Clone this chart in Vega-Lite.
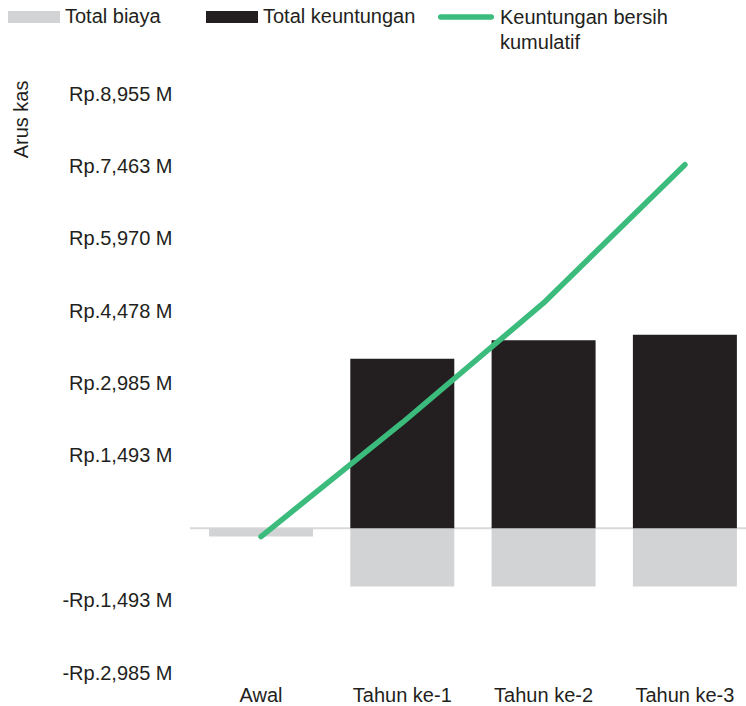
{
  "$schema": "https://vega.github.io/schema/vega-lite/v6.json",
  "width": 556,
  "height": 579,
  "autosize": {"type": "none"},
  "padding": {"left": 190, "top": 94, "right": 0, "bottom": 33},
  "config": {
    "view": {"stroke": null},
    "font": "Liberation Sans",
    "axis": {
      "labelFont": "Liberation Sans",
      "labelFontSize": 20,
      "labelColor": "#231f20",
      "titleFont": "Liberation Sans",
      "titleFontSize": 20,
      "titleFontWeight": "normal",
      "titleColor": "#231f20",
      "grid": false,
      "domain": false,
      "ticks": false
    },
    "legend": {
      "labelFont": "Liberation Sans",
      "labelFontSize": 20,
      "labelColor": "#231f20",
      "labelLimit": 400,
      "padding": 0
    }
  },
  "datasets": {
    "bars": [
      {"periode": "Awal", "kategori": "Total biaya", "nilai": -171},
      {"periode": "Tahun ke-1", "kategori": "Total biaya", "nilai": -1200},
      {"periode": "Tahun ke-2", "kategori": "Total biaya", "nilai": -1200},
      {"periode": "Tahun ke-3", "kategori": "Total biaya", "nilai": -1200},
      {"periode": "Awal", "kategori": "Total keuntungan", "nilai": 0},
      {"periode": "Tahun ke-1", "kategori": "Total keuntungan", "nilai": 3493},
      {"periode": "Tahun ke-2", "kategori": "Total keuntungan", "nilai": 3878},
      {"periode": "Tahun ke-3", "kategori": "Total keuntungan", "nilai": 3988}
    ],
    "garis": [
      {"periode": "Awal", "seri": "Keuntungan bersih kumulatif", "nilai": -171},
      {"periode": "Tahun ke-1", "seri": "Keuntungan bersih kumulatif", "nilai": 2176},
      {"periode": "Tahun ke-2", "seri": "Keuntungan bersih kumulatif", "nilai": 4646},
      {"periode": "Tahun ke-3", "seri": "Keuntungan bersih kumulatif", "nilai": 7497}
    ]
  },
  "layer": [
    {
      "data": {"values": [{}]},
      "mark": {"type": "rule", "color": "#d9d9d9", "strokeWidth": 2},
      "encoding": {"y": {"datum": 0, "type": "quantitative"}}
    },
    {
      "data": {"name": "bars"},
      "mark": {"type": "bar"},
      "encoding": {
        "x": {
          "field": "periode",
          "type": "nominal",
          "sort": ["Awal", "Tahun ke-1", "Tahun ke-2", "Tahun ke-3"],
          "scale": {"paddingInner": 0.264, "paddingOuter": 0.0995, "align": 0.676},
          "axis": {"title": null, "labelAngle": 0, "labelPadding": 12}
        },
        "y": {
          "field": "nilai",
          "type": "quantitative",
          "stack": null,
          "scale": {"domain": [-2985, 8955], "nice": false, "zero": false},
          "axis": {
            "values": [-2985, -1493, 1493, 2985, 4478, 5970, 7463, 8955],
            "labelExpr": "(datum.value < 0 ? '-' : '') + 'Rp.' + format(abs(datum.value), ',') + ' M'",
            "labelPadding": 18,
            "title": "Arus kas",
            "titleAngle": -90,
            "titleAlign": "right",
            "titleBaseline": "alphabetic",
            "titleX": -163,
            "titleY": -14
          }
        },
        "fill": {
          "field": "kategori",
          "type": "nominal",
          "scale": {"domain": ["Total biaya", "Total keuntungan"], "range": ["#d1d3d4", "#231f20"]},
          "legend": {
            "title": null,
            "orient": "none",
            "direction": "horizontal",
            "legendX": -182,
            "legendY": -103,
            "symbolType": "M-1,-0.2308H1V0.2308H-1Z",
            "symbolSize": 2704,
            "symbolStrokeWidth": 0,
            "labelOffset": 5,
            "columnPadding": 45
          }
        }
      }
    },
    {
      "data": {"name": "garis"},
      "mark": {"type": "line", "strokeWidth": 5.5, "strokeCap": "round", "strokeJoin": "round"},
      "encoding": {
        "x": {"field": "periode", "type": "nominal", "sort": ["Awal", "Tahun ke-1", "Tahun ke-2", "Tahun ke-3"]},
        "y": {"field": "nilai", "type": "quantitative"},
        "stroke": {
          "field": "seri",
          "type": "nominal",
          "scale": {"domain": ["Keuntungan bersih kumulatif"], "range": ["#3bbb7c"]},
          "legend": {
            "title": null,
            "orient": "none",
            "legendX": 248,
            "legendY": -105,
            "symbolType": "stroke",
            "symbolSize": 2550,
            "symbolStrokeWidth": 5.5,
            "labelOffset": 6,
            "labelBaseline": "top",
            "labelExpr": "['Keuntungan bersih', 'kumulatif']",
            "encode": {
              "symbols": {"update": {"strokeCap": {"value": "round"}}},
              "labels": {"update": {"dy": {"value": -9}, "lineHeight": {"value": 25}}}
            }
          }
        }
      }
    }
  ]
}
